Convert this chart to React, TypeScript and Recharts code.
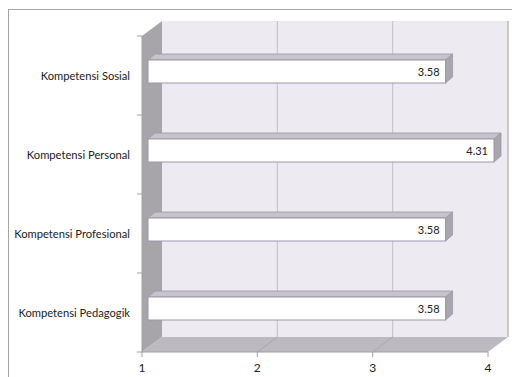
import React from 'react';
import { BarChart, Bar, XAxis, YAxis, ReferenceArea, LabelList } from 'recharts';

const categories = [
  'Kompetensi Sosial',
  'Kompetensi Personal',
  'Kompetensi Profesional',
  'Kompetensi Pedagogik',
];
const scores = [3.58, 4.31, 3.58, 3.58];
const xTicks = [1, 2, 3, 4];

const xMin = xTicks[0];
const xMax = xTicks[xTicks.length - 1];

const data = categories.map((name, i) => ({ name, score: scores[i] }));
// Excel clips bars at the axis maximum; the label still shows the real value
const clampedScore = (d: any) => Math.min(d.score, xMax);

const FONT = 'Lato, "Open Sans", sans-serif';
const BACK = { dx: 20, dy: -15 };
const BAR_OFF = { dx: 6, dy: -4 };
const DEPTH = { dx: 7, dy: -6 };

const Walls = (p: any) => {
  const { x, y, width, height } = p;
  const n = categories.length;
  const bx = x + BACK.dx;
  const by = y + BACK.dy;
  const ticks = [];
  for (let i = 0; i <= n; i++) {
    const ty = y + (i * height) / n;
    ticks.push(<line key={i} x1={x - 5} y1={ty} x2={x} y2={ty} stroke="#A0A0A0" strokeWidth={1} />);
  }
  return (
    <g>
      <rect x={bx} y={by} width={width} height={height} fill="#EDEAF1" />
      <line x1={bx + width} y1={by} x2={bx + width} y2={by + height} stroke="#C9C6CD" strokeWidth={2} />
      <polygon
        points={`${x},${y} ${bx},${by} ${bx},${by + height} ${x},${y + height}`}
        fill="#A7A5AA"
      />
      <polygon
        points={`${x},${y + height} ${bx},${by + height} ${bx + width},${by + height} ${x + width},${y + height}`}
        fill="#BDB9C0"
      />
      <line x1={x} y1={y} x2={x} y2={y + height} stroke="#A0A0A0" strokeWidth={1} />
      {ticks}
    </g>
  );
};

const GridShape = (p: any) => {
  const { x, y, height } = p;
  return (
    <g>
      <line x1={x + BACK.dx} y1={y + BACK.dy} x2={x + BACK.dx} y2={y + BACK.dy + height} stroke="#C3C0C7" strokeWidth={1} />
      <line x1={x} y1={y + height} x2={x + BACK.dx} y2={y + height + BACK.dy} stroke="#A9A6AD" strokeWidth={1} />
    </g>
  );
};

const Bar3D = (p: any) => {
  const { x, y, width, height } = p;
  const fx = x + BAR_OFF.dx;
  const fy = y + BAR_OFF.dy;
  const ex = fx + width;
  return (
    <g>
      <polygon
        points={`${fx},${fy} ${fx + DEPTH.dx},${fy + DEPTH.dy} ${ex + DEPTH.dx},${fy + DEPTH.dy} ${ex},${fy}`}
        fill="#C6C4C8"
        stroke="#9E95AE"
        strokeWidth={0.8}
      />
      <polygon
        points={`${ex},${fy} ${ex + DEPTH.dx},${fy + DEPTH.dy} ${ex + DEPTH.dx},${fy + DEPTH.dy + height} ${ex},${fy + height}`}
        fill="#A9A7AD"
        stroke="#9E95AE"
        strokeWidth={0.8}
      />
      <rect x={fx} y={fy} width={width} height={height} fill="#FFFFFF" stroke="#9E95AE" strokeWidth={1} />
    </g>
  );
};

const renderLabel = (p: any) => {
  const { x, y, width, height, value } = p;
  return (
    <text
      x={x + width}
      y={y + BAR_OFF.dy + height / 2}
      textAnchor="end"
      dominantBaseline="central"
      fontSize={11}
      fontFamily={FONT}
      fill="#222"
    >
      {Number(value).toFixed(2)}
    </text>
  );
};

const CategoryTick = (p: any) => {
  const { x, y, payload } = p;
  return (
    <text x={x} y={y} textAnchor="end" dominantBaseline="central" fontSize={11.2} fontFamily={FONT} fill="#222">
      {payload.value}
    </text>
  );
};

export default function App() {
  return (
    <div style={{ position: 'fixed', left: 0, top: 0, width: 512, height: 377, overflow: 'hidden', background: '#fff' }}>
      <div
        style={{
          position: 'absolute',
          left: 8,
          top: 9,
          width: 600,
          height: 600,
          border: '1px solid #A6A6A6',
        }}
      />
      <div style={{ position: 'absolute', left: 0, top: 0 }}>
        <BarChart
          width={512}
          height={377}
          data={data}
          layout="vertical"
          margin={{ top: 36, right: 24, bottom: 0, left: 0 }}
        >
          <XAxis
            type="number"
            domain={[xMin, xMax]}
            ticks={xTicks}
            interval={0}
            height={25}
            tickSize={5}
            tickMargin={6}
            axisLine={{ stroke: '#A0A0A0' }}
            tickLine={{ stroke: '#A0A0A0' }}
            tick={{ fill: '#222', fontSize: 12, fontFamily: FONT }}
          />
          <YAxis
            type="category"
            dataKey="name"
            width={142}
            tickLine={false}
            axisLine={false}
            tickSize={10}
            tickMargin={2}
            interval={0}
            tick={(p: any) => <CategoryTick {...p} />}
          />
          <ReferenceArea x1={xMin} x2={xMax} ifOverflow="visible" shape={(p: any) => <Walls {...p} />} />
          {xTicks.slice(1, -1).map((t) => (
            <ReferenceArea key={t} x1={t} x2={t} ifOverflow="visible" shape={(p: any) => <GridShape {...p} />} />
          ))}
          <Bar dataKey={clampedScore} barSize={23} shape={(p: any) => <Bar3D {...p} />} isAnimationActive={false}>
            <LabelList dataKey="score" content={renderLabel} />
          </Bar>
        </BarChart>
      </div>
    </div>
  );
}
